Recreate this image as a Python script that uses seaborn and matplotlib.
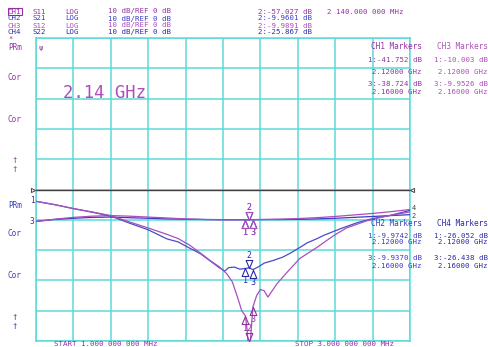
import numpy as np
import pandas as pd
import matplotlib
matplotlib.use("Agg")
import matplotlib.pyplot as plt
import seaborn as sns

# ---- swept traces: frequency (GHz) and magnitude (dB) ----
s11_freq = [1.00, 1.10, 1.20, 1.30, 1.40, 1.50, 1.60, 1.70, 1.76, 1.82, 1.88, 1.93,
            1.98, 2.02, 2.05, 2.08, 2.10, 2.12, 2.13, 2.14, 2.15, 2.16, 2.18, 2.20,
            2.22, 2.24, 2.29, 2.34, 2.41, 2.50, 2.59, 2.66, 2.77, 2.88, 3.00]
s11_db = [-3.9, -5.0, -6.3, -7.4, -8.6, -10.7, -12.7, -14.8, -16.2, -18.3, -21.0, -23.4,
          -25.5, -27.8, -30.5, -36.0, -40.0, -41.752, -47.0, -57.027, -47.0, -38.724, -35.0, -33.0,
          -33.4, -35.5, -31.0, -27.5, -22.8, -19.2, -15.3, -12.7, -10.3, -8.7, -7.4]

s22_freq = [1.00, 1.10, 1.20, 1.30, 1.40, 1.50, 1.60, 1.70, 1.76, 1.82, 1.88, 1.93,
            1.98, 2.01, 2.03, 2.06, 2.09, 2.12, 2.14, 2.16, 2.19, 2.22, 2.27, 2.32,
            2.36, 2.42, 2.45, 2.50, 2.54, 2.63, 2.72, 2.80, 2.89, 3.00]
s22_db = [-3.9, -5.0, -6.3, -7.5, -8.8, -11.1, -13.3, -16.3, -17.3, -19.3, -21.2, -23.5,
          -25.8, -26.9, -25.8, -25.6, -26.3, -26.052, -25.867, -26.438, -25.5, -24.3, -23.4, -22.3,
          -21.0, -18.8, -17.6, -16.3, -15.1, -12.9, -10.9, -9.6, -8.6, -6.9]

s21_freq = [1.00, 1.10, 1.20, 1.30, 1.40, 1.50, 1.60, 1.70, 1.80, 1.90, 2.00, 2.12,
            2.14, 2.16, 2.30, 2.40, 2.50, 2.60, 2.70, 2.80, 2.90, 3.00]
s21_db = [-10.5, -9.9, -9.5, -9.2, -9.1, -9.3, -9.5, -9.7, -9.8, -9.9, -9.95, -9.9742,
          -9.9601, -9.9370, -9.9, -9.85, -9.7, -9.5, -9.2, -8.9, -8.6, -8.3]

s12_freq = [1.00, 1.10, 1.20, 1.30, 1.40, 1.50, 1.60, 1.70, 1.80, 1.90, 2.00, 2.12,
            2.14, 2.16, 2.30, 2.40, 2.50, 2.60, 2.70, 2.80, 2.90, 3.00]
s12_db = [-10.6, -9.8, -9.2, -8.8, -8.6, -8.8, -9.1, -9.4, -9.7, -9.9, -10.0, -10.003,
          -9.9891, -9.9526, -9.8, -9.6, -9.3, -8.9, -8.4, -7.9, -7.3, -6.6]

# ---- markers (1, 2, 3) per channel ----
mk_freq = [2.12, 2.14, 2.16]
ch1_mk = [-41.752, -57.027, -38.724]
ch2_mk = [-9.9742, -9.9601, -9.9370]
ch3_mk = [-10.003, -9.9891, -9.9526]
ch4_mk = [-26.052, -25.867, -26.438]

channels = ["CH1", "CH2", "CH3", "CH4"]
params = ["S11", "S21", "S12", "S22"]
fmt_text = "LOG"
scale_text = "10 dB/REF 0 dB"
active_freq_text = "2 140.000 000 MHz"
big_label = "2.14 GHz"
start_text = "START 1.000 000 000 MHz"
stop_text = "STOP 3.000 000 000 MHz"

# ---- colours ----
C1 = "#9430a4"   # channel 1
C2 = "#3a3ac4"   # channel 2
C3 = "#b04cbc"   # channel 3
C4 = "#2a2aa4"   # channel 4
T11 = "#a850bc"
T22 = "#4a4ac8"
GRID = "#5cd8d8"
REF = "#404040"

sns.set_theme(style="white")
plt.rcParams["font.family"] = ["DejaVu Sans Mono", "DejaVu Sans"]

W, H = 489, 347
fig = plt.figure(figsize=(W / 100, H / 100), dpi=100)
fig.patch.set_facecolor("white")
ax = fig.add_axes([36 / W, 1 - 341 / H, 374 / W, 303 / H])
ax.set_facecolor("white")

TXT = 5.3   # small screen-font size


def put(x, y, s, color, size=TXT, ha="left", **kw):
    return fig.text(x / W, 1 - y / H, s, color=color, fontsize=size,
                    ha=ha, va="center", **kw)


# ---- traces ----
traces = {"S21": (s21_freq, s21_db), "S12": (s12_freq, s12_db),
          "S22": (s22_freq, s22_db), "S11": (s11_freq, s11_db)}
df = pd.concat([pd.DataFrame({"freq": f, "db": d, "trace": k})
                for k, (f, d) in traces.items()], ignore_index=True)
palette = {"S21": C2, "S12": C3, "S22": T22, "S11": T11}
sns.lineplot(data=df, x="freq", y="db", hue="trace",
             hue_order=["S21", "S12", "S22", "S11"], palette=palette,
             estimator=None, sort=True, legend=False, lw=0.9, ax=ax, zorder=4)

# ---- graticule ----
ax.set_xlim(1, 3)
ax.set_ylim(-50, 50)
ax.set_xticks(np.linspace(1, 3, 11))
ax.set_yticks(np.linspace(-50, 50, 11))
ax.grid(True, color=GRID, lw=1.1)
ax.tick_params(length=0, labelbottom=False, labelleft=False)
ax.set_xlabel("")
ax.set_ylabel("")
for sp in ax.spines.values():
    sp.set_color(GRID)
    sp.set_linewidth(1.1)

# reference line
ax.axhline(0, color=REF, lw=1.0, zorder=3)
ax.plot([0.985], [0], marker=">", ms=3, mfc="white", mec=REF, mew=0.7,
        clip_on=False, zorder=5)
ax.plot([3.012], [0], marker="<", ms=3, mfc="white", mec=REF, mew=0.7,
        clip_on=False, zorder=5)

# ---- marker symbols ----
up_tri = [(0, 0), (-0.42, -1), (0.42, -1), (0, 0)]
down_tri = [(0, 0), (-0.42, 1), (0.42, 1), (0, 0)]


def draw_markers(values, color):
    ys = np.clip(values, -50, 50)
    for i, (f, y) in enumerate(zip(mk_freq, ys)):
        n = i + 1
        shape = down_tri if n == 2 else up_tri
        ax.plot([f], [y], marker=shape, ms=11.5, mfc="none", mec=color,
                mew=0.8, ls="none", clip_on=False, zorder=6)
        off = 9 if n == 2 else -9
        ax.annotate(str(n), (f, y), xytext=(0, off), textcoords="offset points",
                    ha="center", va="center", color=color, fontsize=6.0,
                    annotation_clip=False, zorder=6)


draw_markers(ch2_mk, C2)
draw_markers(ch3_mk, C3)
draw_markers(ch4_mk, C4)
draw_markers(ch1_mk, C1)

# ---- header: channel setup ----
ch_colors = [C1, C2, C3, C4]
rows_y = [11.5, 18.5, 25.5, 32.3]
for i, (ch, p, col, y) in enumerate(zip(channels, params, ch_colors, rows_y)):
    box = dict(boxstyle="square,pad=0.05", fc="none", ec=C1, lw=0.8) if i == 0 else None
    put(8, y, ch, col, bbox=box)
    put(33, y, p, col)
    put(65, y, fmt_text, col)
    put(108, y, scale_text, col)

# ---- header: active marker readouts ----
active_vals = [ch1_mk[1], ch2_mk[1], ch3_mk[1], ch4_mk[1]]
for v, col, y in zip(active_vals, ch_colors, rows_y):
    put(258, y, f"2:{v:#.5g} dB", col)
put(327, rows_y[0], active_freq_text, C1)


# ---- marker tables ----
def marker_table(x_right, y_rows, title, vals, color):
    put(x_right, y_rows[0], title, color, ha="right", size=5.6)
    put(x_right, y_rows[1], f"1:{vals[0]:#.5g} dB", color, ha="right")
    put(x_right, y_rows[2], f"{mk_freq[0]:.5f} GHz", color, ha="right")
    put(x_right, y_rows[3], f"3:{vals[2]:#.5g} dB", color, ha="right")
    put(x_right, y_rows[4], f"{mk_freq[2]:.5f} GHz", color, ha="right")


upper_rows = [46.7, 60, 71.7, 84.3, 92.3]
lower_rows = [223.3, 235.5, 242.5, 258.5, 265.5]
marker_table(422, upper_rows, "CH1 Markers", ch1_mk, C1)
marker_table(488, upper_rows, "CH3 Markers", ch3_mk, C3)
marker_table(422, lower_rows, "CH2 Markers", ch2_mk, C2)
marker_table(488, lower_rows, "CH4 Markers", ch4_mk, C4)

# ---- side annotations ----
put(8, 39, "*", C1, size=5)
for y, s in [(48, "PRm"), (77, "Cor"), (119, "Cor")]:
    put(8, y, s, C1, size=5.6)
put(15, 160, "\u2020", C1, ha="center")
put(15, 169, "\u2020", C1, ha="center")
for y, s in [(205, "PRm"), (233, "Cor"), (276, "Cor")]:
    put(8, y, s, C2, size=5.6)
put(15, 317, "\u2020", C2, ha="center")
put(15, 326, "\u2020", C2, ha="center")
put(41, 48, "\u03c8", C1, size=5.0, ha="center")
put(32, 201, "1", "#503070", size=5.6, ha="center")
put(32, 221, "3", "#503070", size=5.6, ha="center")
put(414, 207.5, "4", "#404050", size=5.0, ha="center")
put(414, 215.5, "2", "#404050", size=5.0, ha="center")

# centre-frequency title
put(63, 93, big_label, C3, size=12.4)

# sweep limits
put(54, 344.5, start_text, C1, size=5.4)
put(295, 344.5, stop_text, C1, size=5.4)

fig.savefig("out.png", dpi=100, facecolor="white")
